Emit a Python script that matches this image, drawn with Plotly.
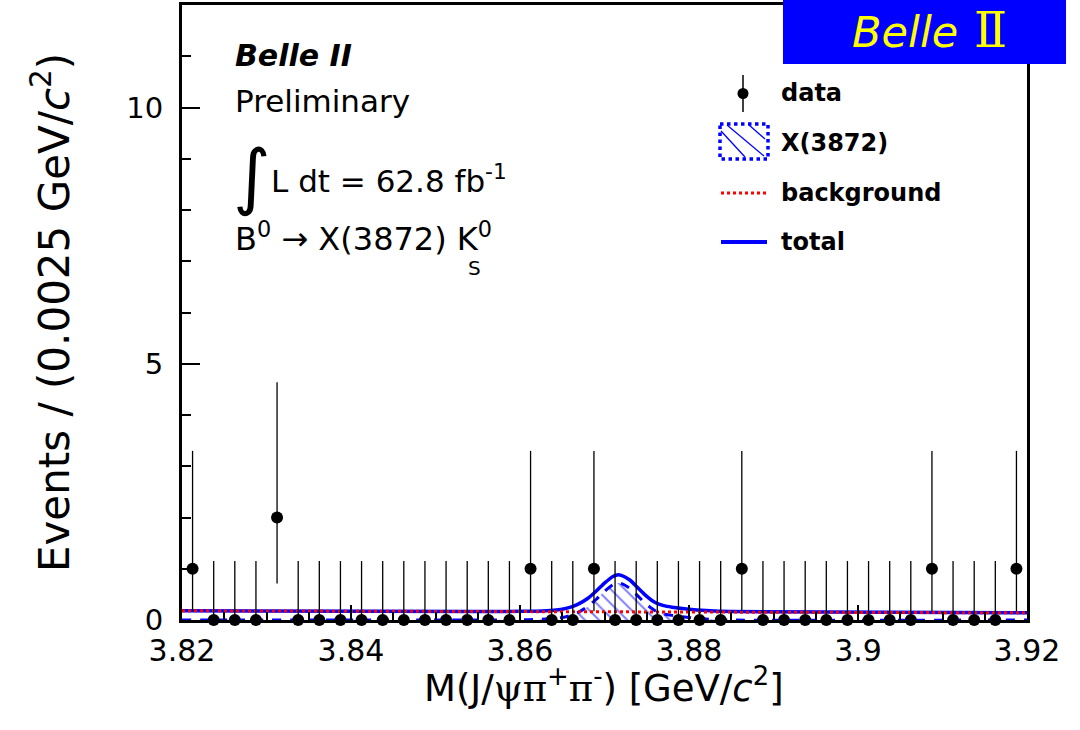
import plotly.graph_objects as go

# ---------------- data ----------------
bin_centers = [3.82125, 3.82375, 3.82625, 3.82875, 3.83125, 3.83375, 3.83625, 3.83875,
               3.84125, 3.84375, 3.84625, 3.84875, 3.85125, 3.85375, 3.85625, 3.85875,
               3.86125, 3.86375, 3.86625, 3.86875, 3.87125, 3.87375, 3.87625, 3.87875,
               3.88125, 3.88375, 3.88625, 3.88875, 3.89125, 3.89375, 3.89625, 3.89875,
               3.90125, 3.90375, 3.90625, 3.90875, 3.91125, 3.91375, 3.91625, 3.91875]
counts = [1, 0, 0, 0, 2, 0, 0, 0, 0, 0, 0, 0, 0, 0, 0, 0,
          1, 0, 0, 1, 0, 0, 0, 0, 0, 0, 1, 0, 0, 0, 0, 0,
          0, 0, 0, 1, 0, 0, 0, 1]
# asymmetric (Poisson) error bars, per count value
err_up_by_count = {0: 1.15, 1: 2.30, 2: 2.64}
err_dn_by_count = {0: 0.00, 1: 0.83, 2: 1.29}

# fit curves
sig_x = [3.820, 3.855, 3.860, 3.862, 3.864, 3.865, 3.866, 3.867, 3.868, 3.869, 3.870,
         3.871, 3.8715, 3.872, 3.873, 3.874, 3.875, 3.876, 3.877, 3.878, 3.880, 3.882,
         3.885, 3.920]
sig_y = [0.00, 0.00, 0.005, 0.01, 0.03, 0.05, 0.09, 0.16, 0.26, 0.40, 0.56,
         0.69, 0.72, 0.71, 0.62, 0.46, 0.30, 0.18, 0.12, 0.09, 0.05, 0.02,
         0.00, 0.00]
tot_x = sig_x
tot_y = [0.18, 0.166, 0.169, 0.173, 0.19, 0.21, 0.25, 0.32, 0.42, 0.56, 0.72,
         0.85, 0.88, 0.87, 0.78, 0.62, 0.46, 0.34, 0.28, 0.25, 0.21, 0.185,
         0.165, 0.14]
bkg_x = [3.82, 3.92]
bkg_y = [0.18, 0.14]

x_tick_vals = [3.82, 3.84, 3.86, 3.88, 3.90, 3.92]
x_tick_text = ["3.82", "3.84", "3.86", "3.88", "3.9", "3.92"]
y_tick_vals = [0, 5, 10]
y_tick_text = ["0", "5", "10"]

FONT = "DejaVu Sans"
BLUE = "#0000ff"
RED = "#ff0000"

err_up = [err_up_by_count[c] for c in counts]
err_dn = [err_dn_by_count[c] for c in counts]

fig = go.Figure()

fig.add_trace(go.Scatter(
    x=sig_x, y=sig_y, mode="lines", name="X(3872)",
    line=dict(color=BLUE, width=3, dash="dash", shape="spline", smoothing=0.6),
    fill="tozeroy", fillcolor="rgba(0,0,0,0)",
    fillpattern=dict(shape="\\", fgcolor=BLUE, bgcolor="rgba(0,0,0,0)", size=10, solidity=0.2),
    showlegend=False))
fig.add_trace(go.Scatter(
    x=tot_x, y=tot_y, mode="lines", name="total",
    line=dict(color=BLUE, width=3.5, shape="spline", smoothing=0.6),
    showlegend=False))
fig.add_trace(go.Scatter(
    x=bkg_x, y=bkg_y, mode="lines", name="background",
    line=dict(color=RED, width=3, dash="dot"), showlegend=False))
fig.add_trace(go.Scatter(
    x=bin_centers, y=counts, mode="markers", name="data",
    marker=dict(color="black", size=12),
    error_y=dict(type="data", symmetric=False, array=err_up, arrayminus=err_dn,
                 color="black", thickness=1.3, width=0),
    cliponaxis=False, showlegend=False))

# ---------------- helpers for pixel -> paper ----------------
L, R, T, B = 182, 1027, 5, 620
def pxx(p):
    return (p - L) / (R - L)
def pxy(p):
    return (B - p) / (B - T)

annotations = []
shapes = []

def text(xp, yp, s, size, anchor="left", yanchor="middle", color="black", family=FONT):
    annotations.append(dict(xref="paper", yref="paper", x=pxx(xp), y=pxy(yp), text=s,
                            showarrow=False, xanchor=anchor, yanchor=yanchor,
                            font=dict(family=family, size=size, color=color)))

# top-left labels
text(233, 55, "<b><i>Belle II</i></b>", 30)
text(233, 101, "Preliminary", 31)
text(231, 176, "∫", 72)
text(269, 179, "L dt = 62.8 fb<sup>-1</sup>", 31)
text(233, 237, "B<sup>0</sup> → X(3872) K<sup>0</sup>", 32)
text(466, 268, "S", 20)

# x-axis title
text(604, 685, "M(J/<span style='font-family:DejaVu Serif'>ψπ</span><sup>+</sup>"
               "<span style='font-family:DejaVu Serif'>π</span><sup>-</sup>) [GeV/<i>c</i><sup>2</sup>]",
     37, anchor="center")

# legend (manual)
leg_text_x = 779
text(leg_text_x, 93, "<b>data</b>", 24)
text(leg_text_x, 143, "<b>X(3872)</b>", 24)
text(leg_text_x, 193, "<b>background</b>", 24)
text(leg_text_x, 242, "<b>total</b>", 24)
# data key
shapes.append(dict(type="line", xref="paper", yref="paper", x0=pxx(743), x1=pxx(743),
                   y0=pxy(75), y1=pxy(112), line=dict(color="black", width=1.5)))
shapes.append(dict(type="circle", xref="paper", yref="paper", x0=pxx(737.5), x1=pxx(748.5),
                   y0=pxy(88), y1=pxy(99), fillcolor="black", line=dict(color="black", width=0)))
# signal key (hatched box)
for (a, b, c, d) in [(721, 131, 745, 157), (727, 125, 764, 156), (749, 125, 765, 139)]:
    shapes.append(dict(type="line", xref="paper", yref="paper", x0=pxx(a), y0=pxy(b),
                       x1=pxx(c), y1=pxy(d), line=dict(color=BLUE, width=1.3)))
shapes.append(dict(type="rect", xref="paper", yref="paper", x0=pxx(720), x1=pxx(768),
                   y0=pxy(124), y1=pxy(159), line=dict(color=BLUE, width=3.5, dash="dot")))
# background key
shapes.append(dict(type="line", xref="paper", yref="paper", x0=pxx(721), x1=pxx(767),
                   y0=pxy(193), y1=pxy(193), line=dict(color=RED, width=3, dash="dot")))
# total key
shapes.append(dict(type="line", xref="paper", yref="paper", x0=pxx(721), x1=pxx(767),
                   y0=pxy(242), y1=pxy(242), line=dict(color=BLUE, width=4)))

# Belle II logo box
shapes.append(dict(type="rect", xref="paper", yref="paper", x0=pxx(783), x1=pxx(1066),
                   y0=pxy(64), y1=pxy(-2), fillcolor=BLUE, line=dict(width=0), layer="above"))
annotations.append(dict(xref="paper", yref="paper", x=pxx(929), y=pxy(30),
                        text="<span style='font-size:43px'><i>Belle</i></span> "
                             "<span style='font-family:DejaVu Serif'>Ⅱ</span>",
                        showarrow=False, xanchor="center", yanchor="middle",
                        font=dict(family=FONT, size=49, color="#ffff00")))

fig.update_layout(
    width=1080, height=730,
    margin=dict(l=L, r=1080 - R, t=T, b=730 - B, autoexpand=False),
    paper_bgcolor="white", plot_bgcolor="white",
    font=dict(family=FONT, color="black"),
    annotations=annotations, shapes=shapes, showlegend=False,
)
fig.update_xaxes(
    range=[3.82, 3.92], tickmode="array", tickvals=x_tick_vals, ticktext=x_tick_text,
    ticks="inside", ticklen=15, tickwidth=1.5, tickcolor="black",
    minor=dict(ticks="inside", ticklen=8, dtick=0.005, tick0=3.82, tickwidth=1.5, tickcolor="black"),
    showline=True, mirror=True, linewidth=3, linecolor="black",
    showgrid=False, zeroline=False, ticklabelstandoff=2,
    tickfont=dict(family=FONT, size=30, color="black"),
    automargin=False,
)
fig.update_yaxes(
    range=[0, 12], tickmode="array", tickvals=y_tick_vals, ticktext=y_tick_text,
    ticks="inside", ticklen=18, tickwidth=1.5, tickcolor="black",
    minor=dict(ticks="inside", ticklen=9, dtick=1, tick0=0, tickwidth=1.5, tickcolor="black"),
    showline=True, mirror=True, linewidth=3, linecolor="black",
    showgrid=False, zeroline=False, ticklabelstandoff=10,
    tickfont=dict(family=FONT, size=29, color="black"),
    title=dict(text="Events / (0.0025 GeV/<i>c</i><sup>2</sup>)",
               font=dict(family=FONT, size=42, color="black"), standoff=44),
    automargin=False,
)

fig.write_html("out.html", config={"displayModeBar": False},
               post_script="document.body.style.margin='0px';document.body.style.overflow='hidden';")
